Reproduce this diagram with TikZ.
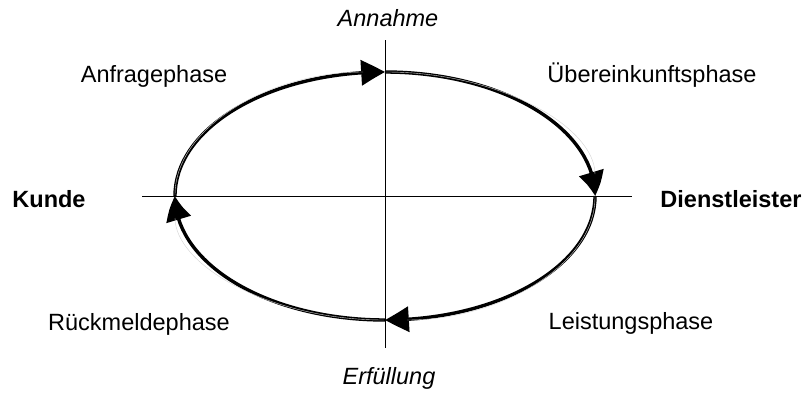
\documentclass[tikz,border=0pt]{standalone}
\usepackage{fontspec}
\setmainfont{Liberation Sans}
\usetikzlibrary{arrows.meta,bending}
\begin{document}
\begin{tikzpicture}[x=1pt,y=1pt,
  axisline/.style={line width=0.8pt},
  cycleline/.style={line width=3.4pt,-{Triangle[length=24pt,width=25pt,bend]}},
  innerline/.style={line width=0.4pt,gray!35,shorten >=22pt,shorten <=1pt},
  phase/.style={anchor=base,font=\fontsize{23.5}{26}\selectfont},
  party/.style={anchor=base,font=\fontsize{23.5}{26}\selectfont\bfseries},
  event/.style={anchor=base,font=\fontsize{23.5}{26}\selectfont\itshape}]
\useasboundingbox (0,0) rectangle (805,392);

% axes
\coordinate (vtop) at (385,352);
\coordinate (vbot) at (385,44);
\coordinate (hleft) at (142,196);
\coordinate (hright) at (632,196);
\draw[axisline] (vtop) -- (vbot);
\draw[axisline] (hleft) -- (hright);

% crossing points of the cycle with the axes
\coordinate (L) at (175,196);
\coordinate (T) at (385,320);
\coordinate (R) at (595,196);
\coordinate (B) at (385,72);

% the cycle, drawn quarter by quarter clockwise
\draw[cycleline] (L) arc[start angle=180,end angle=90,x radius=210,y radius=124];
\draw[cycleline] (T) arc[start angle=90,end angle=0,x radius=210,y radius=124];
\draw[cycleline] (R) arc[start angle=0,end angle=-90,x radius=210,y radius=124];
\draw[cycleline] (B) arc[start angle=270,end angle=180,x radius=210,y radius=124];
\draw[innerline] (L) arc[start angle=180,end angle=90,x radius=210,y radius=124];
\draw[innerline] (T) arc[start angle=90,end angle=0,x radius=210,y radius=124];
\draw[innerline] (R) arc[start angle=0,end angle=-90,x radius=210,y radius=124];
\draw[innerline] (B) arc[start angle=270,end angle=180,x radius=210,y radius=124];

% labels
\node[event] (annahme) at (388,366) {Annahme};
\node[event] (erfuellung) at (389,8) {Erfüllung};
\node[party] (kunde) at (49,185) {Kunde};
\node[party] (dienst) at (731,185) {Dienstleister};
\node[phase] (anfrage) at (154,310) {Anfragephase};
\node[phase] (ueber) at (652,310) {Übereinkunftsphase};
\node[phase] (rueck) at (139,62) {Rückmeldephase};
\node[phase] (leist) at (631,63) {Leistungsphase};
\end{tikzpicture}
\end{document}
